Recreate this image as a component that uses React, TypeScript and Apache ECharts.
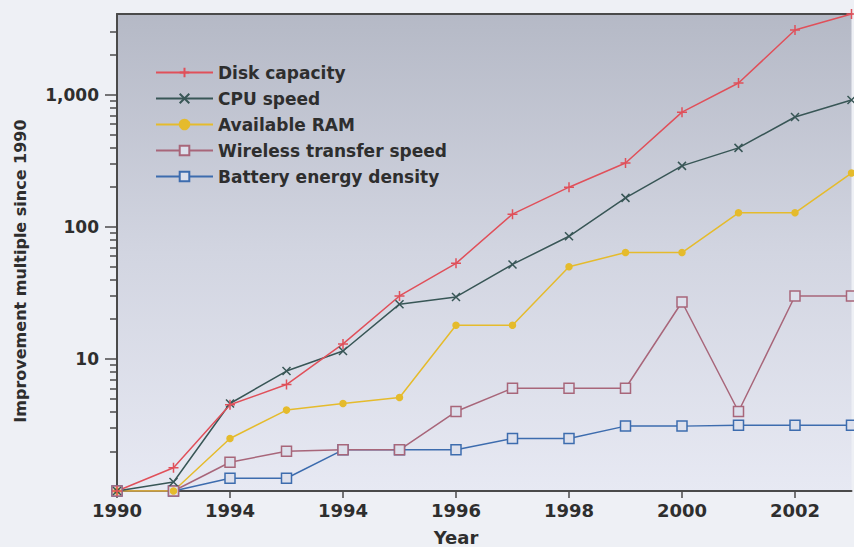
import React, { useEffect, useRef } from "react";
import * as echarts from "echarts";

const years = ["1990", "1991", "1992", "1993", "1994", "1995", "1996", "1997", "1998", "1999", "2000", "2001", "2002", "2003"];
const xTickLabels = ["1990", "", "1994", "", "1994", "", "1996", "", "1998", "", "2000", "", "2002", ""];
const yMajorTicks = [10, 100, 1000];
const yMinorTicks = [2, 3, 4, 5, 6, 7, 8, 9, 20, 30, 40, 50, 60, 70, 80, 90, 200, 300, 400, 500, 600, 700, 800, 900, 2000, 3000];

const diskCapacity = [1, 1.5, 4.5, 6.4, 13, 30, 53, 125, 200, 305, 740, 1230, 3100, 4100];
const cpuSpeed = [1, 1.17, 4.6, 8.1, 11.5, 26, 29.5, 52, 85, 166, 290, 397, 680, 915];
const availableRam = [1, 1, 2.5, 4.1, 4.6, 5.1, 18, 18, 50, 64, 64, 128, 128, 256];
const wirelessSpeed = [1, 1, 1.65, 2, 2.05, 2.05, 4, 6, 6, 6, 27, 4, 30, 30];
const batteryDensity = [1, 1, 1.25, 1.25, 2.05, 2.05, 2.05, 2.5, 2.5, 3.1, 3.1, 3.15, 3.15, 3.15];

const FONT = "'DejaVu Sans', sans-serif";
const AXIS = "#4a4a4a";
const TEXT = "#2e2e2e";

export default function App() {
  const ref = useRef<HTMLDivElement>(null);
  useEffect(() => {
    document.body.style.margin = "0";
    const chart = echarts.init(ref.current!, null, { renderer: "svg" });
    const mk = (name: string, data: number[], color: string, symbol: string, size: number, fill?: string) => ({
      name,
      type: "line",
      data,
      symbol,
      symbolSize: size,
      lineStyle: { color, width: 1.5 },
      itemStyle: { color: fill ?? color, borderColor: color, borderWidth: 1.5 },
      xAxisIndex: 0,
      yAxisIndex: 0,
      z: 3,
    });
    chart.setOption({
      animation: false,
      backgroundColor: "#eef0f5",
      textStyle: { fontFamily: FONT },
      grid: {
        left: 117,
        top: 14,
        right: 2.5,
        bottom: 56,
        show: true,
        borderWidth: 0,
        backgroundColor: new echarts.graphic.LinearGradient(0, 0, 0, 1, [
          { offset: 0, color: "#b5b9c6" },
          { offset: 0.5, color: "#d2d5e1" },
          { offset: 1, color: "#e7e9f3" },
        ]),
      },
      legend: {
        data: ["Disk capacity", "CPU speed", "Available RAM", "Wireless transfer speed", "Battery energy density"],
        orient: "vertical",
        left: 150,
        top: 59,
        itemWidth: 57,
        itemHeight: 12,
        itemGap: 9,
        textStyle: { fontFamily: FONT, fontWeight: "bold", fontSize: 17, color: TEXT },
      },
      xAxis: [
        {
          type: "category",
          data: years,
          boundaryGap: false,
          axisLine: { lineStyle: { color: AXIS, width: 2 } },
          axisTick: { interval: 1, length: 7, lineStyle: { color: AXIS, width: 1.5 } },
          axisLabel: {
            interval: 1,
            margin: 10,
            formatter: (_v: string, i: number) => xTickLabels[i],
            fontFamily: FONT,
            fontWeight: "bold",
            fontSize: 18,
            color: TEXT,
          },
          splitLine: { show: false },
        },
        {
          type: "category",
          data: years,
          position: "top",
          boundaryGap: false,
          axisLine: { lineStyle: { color: AXIS, width: 2 } },
          axisTick: { show: false },
          axisLabel: { show: false },
          splitLine: { show: false },
        },
      ],
      yAxis: [
        {
          type: "log",
          logBase: 10,
          min: 1,
          max: 4100,
          axisLine: { show: true, lineStyle: { color: AXIS, width: 2 } },
          axisTick: { show: true, length: 12, customValues: yMajorTicks, lineStyle: { color: AXIS, width: 1.5 } },
          axisLabel: {
            customValues: yMajorTicks,
            margin: 18,
            formatter: (v: number) => Math.round(v).toLocaleString("en-US"),
            fontFamily: FONT,
            fontWeight: "bold",
            fontSize: 17,
            color: TEXT,
          },
          splitLine: { show: false },
          minorTick: { show: false },
        },
        {
          type: "log",
          logBase: 10,
          min: 1,
          max: 4100,
          position: "left",
          axisLine: { show: false },
          axisTick: { show: true, length: 7, customValues: yMinorTicks, lineStyle: { color: AXIS, width: 1.5 } },
          axisLabel: { show: false },
          splitLine: { show: false },
        },
      ],
      graphic: [
        {
          type: "text",
          x: 20,
          y: 271,
          rotation: Math.PI / 2,
          style: {
            text: "Improvement multiple since 1990",
            align: "center",
            verticalAlign: "middle",
            fontFamily: FONT,
            fontWeight: "bold",
            fontSize: 16,
            fill: TEXT,
          },
        },
        {
          type: "text",
          x: 456,
          y: 537,
          style: {
            text: "Year",
            align: "center",
            verticalAlign: "middle",
            fontFamily: FONT,
            fontWeight: "bold",
            fontSize: 18,
            fill: TEXT,
          },
        },
      ],
      series: [
        mk("Battery energy density", batteryDensity, "#3d6cae", "rect", 10, "#dde0ec"),
        mk("Wireless transfer speed", wirelessSpeed, "#a8667a", "rect", 10, "#dde0ec"),
        mk("Available RAM", availableRam, "#e5bb2c", "circle", 6),
        mk("CPU speed", cpuSpeed, "#385656", "path://M0,0L10,10M10,0L0,10", 8),
        mk("Disk capacity", diskCapacity, "#e0505a", "path://M5,0L5,10M0,5L10,5", 10),
      ],
    });
    return () => chart.dispose();
  }, []);
  return <div ref={ref} style={{ width: 854, height: 547 }} />;
}
